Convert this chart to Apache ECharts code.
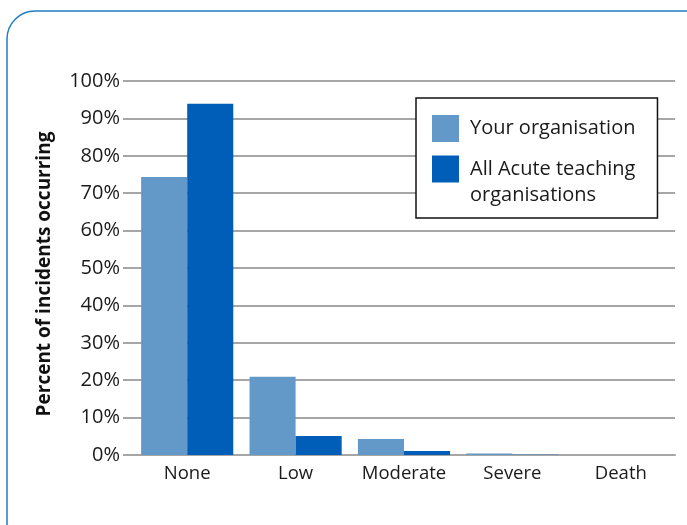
<!DOCTYPE html>
<html>
<head>
<meta charset="utf-8">
<script src="https://cdn.jsdelivr.net/npm/echarts@6/dist/echarts.min.js"></script>
<style>
  html, body { margin: 0; padding: 0; background: #fff; }
  #chart { width: 687px; height: 525px; }
</style>
</head>
<body>
<div id="chart"></div>
<script>
var categories = ['None', 'Low', 'Moderate', 'Severe', 'Death'];
var yourOrg = [74.3, 20.9, 4.3, 0.4, 0];
var allAcute = [93.9, 5.1, 1.1, 0.1, 0];
var seriesNames = ['Your organisation', 'All Acute teaching\norganisations'];

var font = '"Open Sans", "Noto Sans", sans-serif';
var chart = echarts.init(document.getElementById('chart'));

var option = {
    backgroundColor: '#fff',
    animation: false,
    textStyle: { fontFamily: font },
    graphic: [{
        type: 'rect',
        shape: { x: 7, y: 11, width: 710, height: 540, r: 28 },
        style: { fill: 'none', stroke: '#1f7fc4', lineWidth: 1.5 },
        z: -10
    }, {
        type: 'text',
        x: 45,
        y: 274,
        rotation: Math.PI / 2,
        style: {
            text: 'Percent of incidents occurring',
            font: 'bold 19px ' + font,
            fill: '#111',
            align: 'center',
            verticalAlign: 'middle'
        }
    }],
    grid: {
        left: 133,
        right: 12,
        top: 81,
        bottom: 70,
        containLabel: false
    },
    legend: {
        orient: 'vertical',
        left: 416,
        top: 98,
        padding: [17, 22, 10, 16],
        itemGap: -12,
        itemWidth: 27,
        itemHeight: 27,
        backgroundColor: '#fff',
        borderColor: '#111',
        borderWidth: 1.5,
        borderRadius: 0,
        icon: 'rect',
        data: seriesNames,
        formatter: function(name) {
            // push the two-line label down so the swatch sits by its first line
            return name === seriesNames[1] ? '\n' + name : name;
        },
        textStyle: {
            fontSize: 20,
            color: '#1a1a1a',
            lineHeight: 26,
            padding: [0, 0, 0, 6]
        }
    },
    xAxis: {
        type: 'category',
        data: categories,
        axisTick: { show: false },
        axisLine: { lineStyle: { color: '#a6a6a6', width: 2 } },
        axisLabel: { color: '#1a1a1a', fontSize: 18.5, margin: 9, interval: 0 }
    },
    yAxis: {
        type: 'value',
        min: 0,
        max: 100,
        interval: 10,
        axisLine: { show: false },
        axisTick: { show: true, length: 10, lineStyle: { color: '#a6a6a6', width: 2 } },
        axisLabel: { color: '#1a1a1a', fontSize: 20, margin: 13, formatter: '{value}%' },
        splitLine: { lineStyle: { color: '#a6a6a6', width: 2 } }
    },
    series: [{
        name: seriesNames[0],
        type: 'bar',
        data: yourOrg,
        barGap: '0%',
        barCategoryGap: '15%',
        itemStyle: { color: '#6399c9' }
    }, {
        name: seriesNames[1],
        type: 'bar',
        data: allAcute,
        itemStyle: { color: '#005eb8' }
    }]
};

chart.setOption(option);
</script>
</body>
</html>
